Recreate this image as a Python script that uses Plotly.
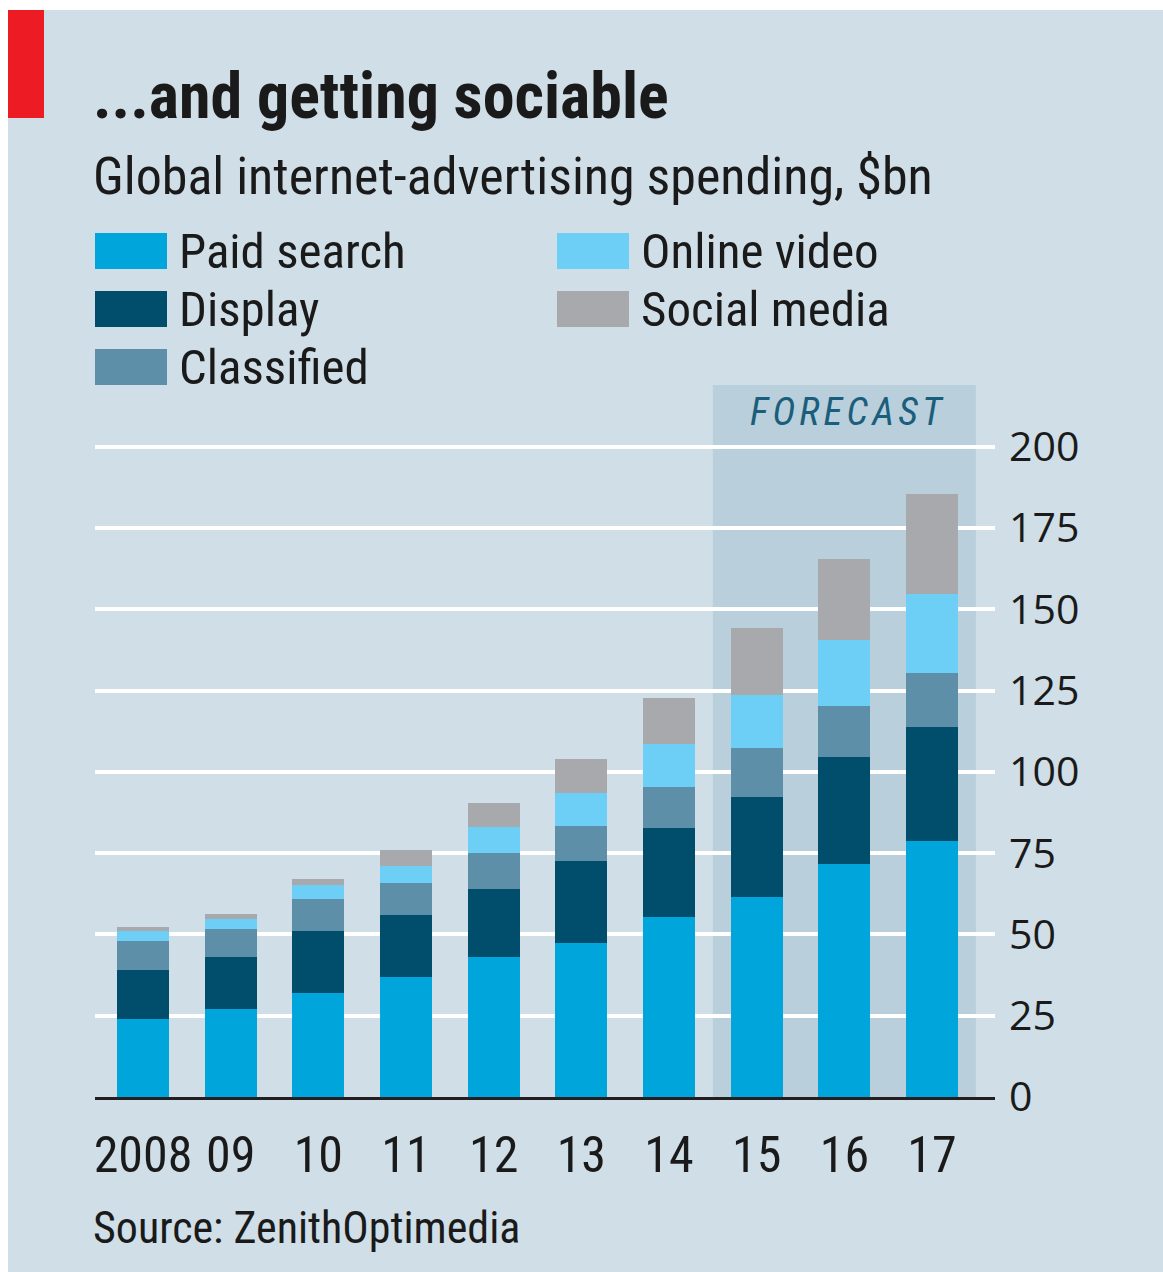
import plotly.graph_objects as go

# ---- data ----
years = ["2008", "09", "10", "11", "12", "13", "14", "15", "16", "17"]
series_names = ["Paid search", "Display", "Classified", "Online video", "Social media"]
paid_search = [24.0, 27.0, 32.0, 37.0, 43.0, 47.5, 55.5, 61.6, 71.6, 78.6]
display = [15.0, 16.1, 19.0, 19.0, 20.9, 25.2, 27.1, 30.8, 33.1, 35.1]
classified = [9.0, 8.7, 9.9, 9.9, 11.1, 10.8, 12.8, 15.1, 15.7, 16.7]
online_video = [3.1, 3.1, 4.2, 5.3, 8.0, 10.1, 13.1, 16.0, 20.1, 24.2]
social_media = [1.1, 1.3, 2.0, 4.9, 7.5, 10.5, 14.3, 20.8, 25.0, 30.9]
y_ticks = [0, 25, 50, 75, 100, 125, 150, 175, 200]
forecast_start, forecast_end = 6.5, 9.5  # category positions bounding 2015-17

colors = ["#00a5dc", "#004e6b", "#5e8fa9", "#6dcff6", "#a7a9ac"]
BG = "#cfdee7"
NARROW = "Roboto Condensed, Liberation Sans Narrow, sans-serif"

W, H = 1163, 1272
L, R, T, B = 95, 995, 385, 1097  # plot area in pixels


def px_x(p):
    return (p - L) / (R - L)


def px_y(p):
    return (B - p) / (B - T)


x_pos = list(range(len(years)))
fig = go.Figure()
for name, vals, col in zip(series_names,
                           [paid_search, display, classified, online_video, social_media],
                           colors):
    fig.add_trace(go.Bar(x=x_pos, y=vals, name=name, marker=dict(color=col, line=dict(width=0)),
                         width=0.593, showlegend=False))

shapes = []
# forecast shade
shapes.append(dict(type="rect", xref="x", yref="paper", x0=forecast_start, x1=forecast_end,
                   y0=0, y1=1, fillcolor="#b9cfdc", line=dict(width=0), layer="below"))
# white borders (top & left)
shapes.append(dict(type="rect", xref="paper", yref="paper", x0=px_x(-5), x1=px_x(8),
                   y0=px_y(H + 400), y1=px_y(-5), fillcolor="white", line=dict(width=0)))
shapes.append(dict(type="rect", xref="paper", yref="paper", x0=px_x(-5), x1=px_x(W + 5),
                   y0=px_y(10), y1=px_y(-5), fillcolor="white", line=dict(width=0)))
# red tag
shapes.append(dict(type="rect", xref="paper", yref="paper", x0=px_x(8), x1=px_x(44),
                   y0=px_y(118), y1=px_y(10), fillcolor="#ed1c24", line=dict(width=0)))

annotations = []
annotations.append(dict(text="<b>...and getting sociable</b>", xref="paper", yref="paper",
                        x=px_x(91), y=px_y(97), xanchor="left", yanchor="middle", showarrow=False,
                        font=dict(family=NARROW, size=64, color="#1a1a1a")))
annotations.append(dict(text="Global internet-advertising spending, $bn", xref="paper", yref="paper",
                        x=px_x(91), y=px_y(176), xanchor="left", yanchor="middle", showarrow=False,
                        font=dict(family=NARROW, size=52, color="#1a1a1a")))
# legend (two columns, column-major)
leg_pos = [(95, 251), (95, 309), (95, 367), (557, 251), (557, 309)]
for (lx, ly), name, col in zip(leg_pos, series_names, colors):
    shapes.append(dict(type="rect", xref="paper", yref="paper", x0=px_x(lx), x1=px_x(lx + 72),
                       y0=px_y(ly + 18), y1=px_y(ly - 18), fillcolor=col, line=dict(width=0)))
    annotations.append(dict(text=name, xref="paper", yref="paper", x=px_x(lx + 82), y=px_y(ly),
                            xanchor="left", yanchor="middle", showarrow=False,
                            font=dict(family=NARROW, size=49, color="#1a1a1a")))
annotations.append(dict(text="<i>F\u200aO\u200aR\u200aE\u200aC\u200aA\u200aS\u200aT</i>", xref="paper", yref="paper",
                        x=px_x(847), y=px_y(412), xanchor="center", yanchor="middle", showarrow=False,
                        font=dict(family=NARROW, size=39, color="#1b5e7b")))
annotations.append(dict(text="Source: ZenithOptimedia", xref="paper", yref="paper",
                        x=px_x(91), y=px_y(1228), xanchor="left", yanchor="middle", showarrow=False,
                        font=dict(family=NARROW, size=44, color="#1a1a1a")))

fig.update_layout(
    width=W, height=H,
    margin=dict(l=L, r=W - R, t=T, b=H - B, pad=0),
    paper_bgcolor=BG, plot_bgcolor=BG,
    barmode="stack", bargap=0,
    shapes=shapes, annotations=annotations,
    xaxis=dict(range=[-0.5475, 9.718], tickvals=x_pos, ticktext=years, showgrid=False,
               zeroline=False, showline=True, linecolor="#231f20", linewidth=3,
               ticks="", ticklabelstandoff=12,
               tickfont=dict(family=NARROW, size=50, color="#1a1a1a")),
    yaxis=dict(range=[0, 219], tickvals=y_ticks, side="right", showgrid=True,
               gridcolor="white", gridwidth=4, zeroline=False, showline=False, ticks="",
               ticklabelstandoff=13,
               tickfont=dict(family="Open Sans, DejaVu Sans, sans-serif", size=41, color="#1a1a1a")),
)

fig.write_html("out.html")
